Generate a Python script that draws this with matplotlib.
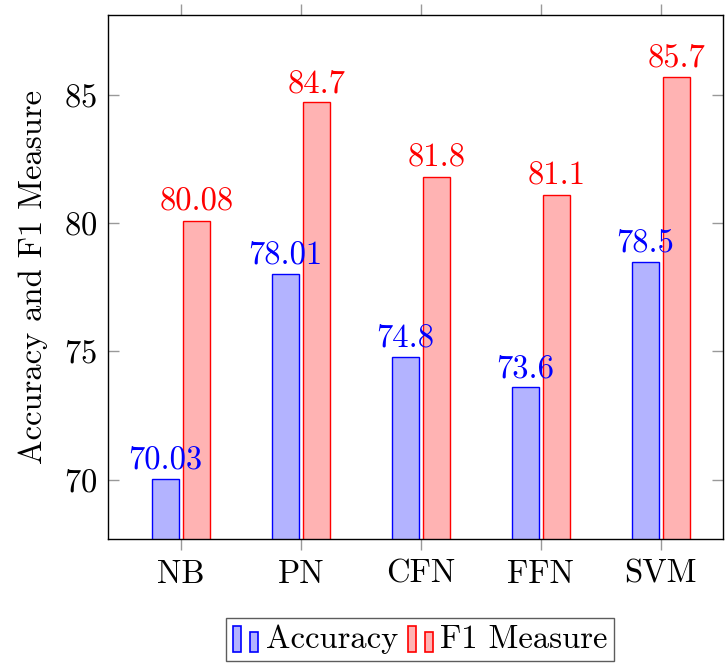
import matplotlib
matplotlib.use("Agg")
import matplotlib.pyplot as plt
from matplotlib.legend_handler import HandlerBase
from matplotlib.patches import Rectangle
import numpy as np

plt.rcParams['font.family'] = ['cmr10', 'DejaVu Serif']
plt.rcParams['axes.formatter.use_mathtext'] = True

# Data
models = ['NB', 'PN', 'CFN', 'FFN', 'SVM']
accuracy = [70.03, 78.01, 74.8, 73.6, 78.5]
f1 = [80.08, 84.7, 81.8, 81.1, 85.7]
acc_labels = ['70.03', '78.01', '74.8', '73.6', '78.5']
f1_labels = ['80.08', '84.7', '81.8', '81.1', '85.7']

blue_edge, blue_fill = '#0000ff', '#b3b3ff'
red_edge, red_fill = '#ff0000', '#ffb3b3'
fs = 23.5


class TwoBarHandler(HandlerBase):
    # pgfplots style ybar legend image: two small bars
    def create_artists(self, legend, orig_handle, xdescent, ydescent,
                       width, height, fontsize, trans):
        fc = orig_handle.get_facecolor()
        ec = orig_handle.get_edgecolor()
        w = width * 0.3
        r1 = Rectangle((-xdescent, -ydescent - 3), w, height * 1.15,
                       facecolor=fc, edgecolor=ec, lw=1.2, transform=trans)
        r2 = Rectangle((-xdescent + width * 0.62, -ydescent - 3), w, height * 0.88,
                       facecolor=fc, edgecolor=ec, lw=1.2, transform=trans)
        return [r1, r2]


fig = plt.figure(figsize=(7.26, 6.64), dpi=100)
ax = fig.add_axes([0.1488, 0.1883, 0.8471, 0.7891])

x = np.arange(len(models))
width = 0.225
off = 0.13
b1 = ax.bar(x - off, accuracy, width, color=blue_fill, edgecolor=blue_edge,
            linewidth=1.0, label='Accuracy')
b2 = ax.bar(x + off, f1, width, color=red_fill, edgecolor=red_edge,
            linewidth=1.0, label='F1 Measure')

for xi, v, t in zip(x, accuracy, acc_labels):
    ax.annotate(t, (xi - off, v), xytext=(0, 3), textcoords='offset points',
                ha='center', va='bottom', color=blue_edge, fontsize=fs)
for xi, v, t in zip(x, f1, f1_labels):
    ax.annotate(t, (xi + off, v), xytext=(0, 3), textcoords='offset points',
                ha='center', va='bottom', color=red_edge, fontsize=fs)

ax.set_xlim(-0.61, 4.52)
ax.set_ylim(67.7, 88.1)
ax.set_xticks(x)
ax.set_xticklabels(models)
ax.set_yticks([70, 75, 80, 85])
ax.set_ylabel('Accuracy and F1 Measure', fontsize=fs, labelpad=11)

ax.tick_params(axis='x', direction='out', length=8, width=1, color='#999999',
               top=True, labelsize=fs, pad=7)
ax.tick_params(axis='y', direction='in', length=8, width=1, color='#999999',
               right=True, labelsize=fs, pad=8)
for s in ax.spines.values():
    s.set_linewidth(1.0)

leg = fig.legend(handles=[b1.patches[0], b2.patches[0]],
                 labels=['Accuracy', 'F1 Measure'],
                 loc='upper center', bbox_to_anchor=(0.579, 0.0693), ncol=2,
                 fontsize=fs, frameon=True, fancybox=False,
                 handler_map={Rectangle: TwoBarHandler()},
                 handlelength=0.85, handletextpad=0.15, columnspacing=0.3,
                 borderpad=0.2, borderaxespad=0)
leg.get_frame().set_edgecolor('#333333')
leg.get_frame().set_linewidth(1.0)

fig.savefig('out.png', dpi=100)
